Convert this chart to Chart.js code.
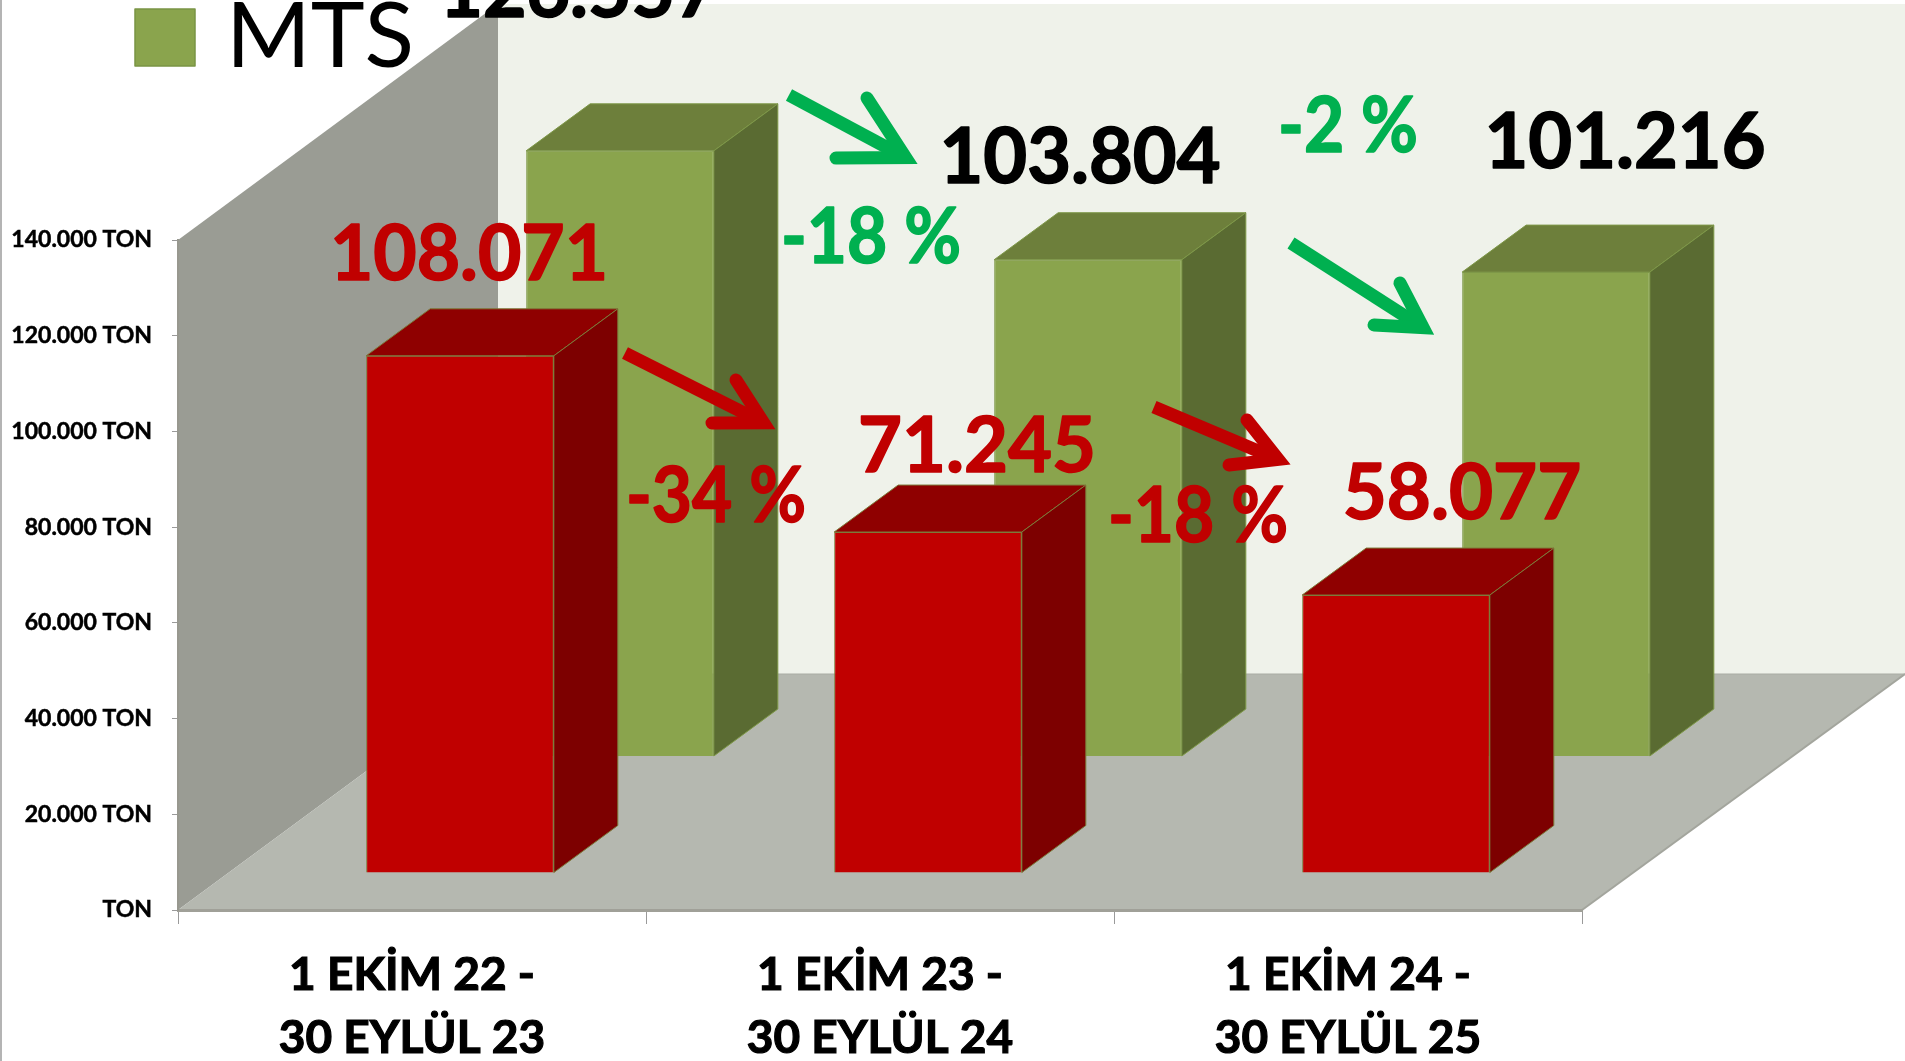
<!DOCTYPE html>
<html><head><meta charset="utf-8">
<style>html,body{margin:0;padding:0;background:#fff;overflow:hidden}canvas{display:block}</style>
<script src="https://cdn.jsdelivr.net/npm/chart.js@4"></script>
</head><body><canvas id="c" width="1905" height="1061"></canvas>
<script>
const categories = [["1 EKİM 22 -","30 EYLÜL 23"],["1 EKİM 23 -","30 EYLÜL 24"],["1 EKİM 24 -","30 EYLÜL 25"]];
const mtsValues = [126557,103804,101216];
const otherValues = [108071,71245,58077];
const mtsChanges = ["-18 %","-2 %"];
const otherChanges = ["-34 %","-18 %"];
const legendLabel = "MTS";

const FONT = 'Lato, sans-serif';
const WALL = {dx:320, dy:236};
const BAR3D = {dx:64, dy:47};
const fmt = v => String(v).replace(/\B(?=(\d{3})+$)/g,'.');

// depth position of each dataset inside the floor, and 3D face colours
const looks = [
  {shiftX:48, shiftY:-37, top:'#8f0000', side:'#7d0000', edge:'#7d7a3a'},
  {shiftX:208, shiftY:-153.5, top:'#6d7f3b', side:'#5a6b32', edge:'#7e9848'}
];
// annotation placement: [centre x, centre y, fitted width]
const valuePos = [
  [[469,253,278],[977,445,238],[1462,492,239]],
  [[579,-10,279],[1080,156,281],[1625,141,281]]
];
const changePos = [ [[716,495,180],[1198,515,180]], [[871,236,180],[1348,125,140]] ];
const arrows = [
  {c:'#C00000',tail:[625,353],tip:[774,428],a:[736,380],b:[712,423]},
  {c:'#C00000',tail:[1154,407],tip:[1289,464],a:[1247,420],b:[1229,465]},
  {c:'#00B050',tail:[789,95],tip:[916,163],a:[867,98],b:[836,158]},
  {c:'#00B050',tail:[1291,243],tip:[1433,334],a:[1400,283],b:[1374,325]}
];

function poly(ctx,pts,fill,stroke,lw){
  ctx.beginPath();pts.forEach((p,i)=>i?ctx.lineTo(p[0],p[1]):ctx.moveTo(p[0],p[1]));ctx.closePath();
  if(fill){ctx.fillStyle=fill;ctx.fill();}
  if(stroke){ctx.strokeStyle=stroke;ctx.lineWidth=lw||1;ctx.stroke();}
}
function drawArrow(ctx,ar){
  const [tx,ty]=ar.tip,[sx,sy]=ar.tail;
  const L=Math.hypot(tx-sx,ty-sy),ux=(tx-sx)/L,uy=(ty-sy)/L;
  const w=13, ix=tx-ux*w*0.9, iy=ty-uy*w*0.9;
  ctx.save();ctx.strokeStyle=ar.c;ctx.lineWidth=w;
  ctx.lineCap='butt';ctx.beginPath();ctx.moveTo(sx,sy);ctx.lineTo(ix,iy);ctx.stroke();
  ctx.lineCap='round';ctx.lineJoin='miter';ctx.miterLimit=10;
  ctx.beginPath();ctx.moveTo(ar.a[0],ar.a[1]);ctx.lineTo(ix,iy);ctx.lineTo(ar.b[0],ar.b[1]);ctx.stroke();
  ctx.restore();
}
function heavyText(ctx,txt,p,color){
  ctx.fillStyle=color;ctx.strokeStyle=color;ctx.lineWidth=1.6;ctx.lineJoin='round';
  ctx.fillText(txt,p[0],p[1]+2,p[2]);
  ctx.strokeText(txt,p[0],p[1]+2,p[2]);
}

const scene = {
  id:'scene',
  beforeDraw(chart){
    const {ctx,chartArea:{left:l,right:r,bottom:b,top:t}}=chart;
    ctx.save();
    ctx.fillStyle='#fff';ctx.fillRect(0,0,chart.width,chart.height);
    ctx.fillStyle='#b4b4b4';ctx.fillRect(0,0,2,chart.height);
    const bx=l+WALL.dx, fy=b-WALL.dy, ty=t-WALL.dy;
    poly(ctx,[[bx,ty],[chart.width,ty],[chart.width,fy],[bx,fy]],'#eff2ea');
    poly(ctx,[[l,b],[l,t],[bx,ty],[bx,fy]],'#9a9c94');
    poly(ctx,[[l,b],[r,b],[chart.width,fy],[bx,fy]],'#b5b8b0');
    ctx.strokeStyle='#a3a59d';ctx.lineWidth=2;
    ctx.beginPath();ctx.moveTo(r,b);ctx.lineTo(chart.width,fy);ctx.stroke();
    ctx.strokeStyle='#a9aca4';ctx.lineWidth=1;
    ctx.beginPath();ctx.moveTo(bx,fy);ctx.lineTo(chart.width,fy);ctx.stroke();
    ctx.restore();
  },
  beforeDatasetDraw(chart,args){
    const {ctx}=chart,lk=looks[args.index];
    ctx.save();ctx.translate(lk.shiftX,lk.shiftY);
    args.meta.data.forEach(el=>{
      const p=el.getProps(['x','y','base','width'],true);
      const x0=p.x-p.width/2,x1=p.x+p.width/2,{dx,dy}=BAR3D;
      poly(ctx,[[x0,p.y],[x1,p.y],[x1+dx,p.y-dy],[x0+dx,p.y-dy]],lk.top,lk.edge,1);
      poly(ctx,[[x1,p.y],[x1+dx,p.y-dy],[x1+dx,p.base-dy],[x1,p.base]],lk.side,lk.edge,1);
    });
  },
  afterDatasetDraw(chart){chart.ctx.restore();},
  afterDatasetsDraw(chart){
    const {ctx}=chart;
    ctx.save();
    ctx.textAlign='center';ctx.textBaseline='middle';
    ctx.font='bold 76px '+FONT;
    [otherValues,mtsValues].forEach((vals,s)=>vals.forEach((v,i)=>{
      heavyText(ctx,fmt(v),valuePos[s][i],s?'#000':'#C00000');
    }));
    [otherChanges,mtsChanges].forEach((vals,s)=>vals.forEach((v,i)=>{
      heavyText(ctx,v,changePos[s][i],s?'#00B050':'#C00000');
    }));
    arrows.forEach(a=>drawArrow(ctx,a));
    // legend
    ctx.fillStyle='#8aa44d';ctx.strokeStyle='#7a9444';ctx.lineWidth=1.5;
    ctx.fillRect(135,9,60,57);ctx.strokeRect(135,9,60,57);
    ctx.fillStyle='#000';ctx.textAlign='left';ctx.textBaseline='alphabetic';
    ctx.font='92px '+FONT;ctx.fillText(legendLabel,226,67,188);
    ctx.restore();
  }
};

new Chart(document.getElementById('c'),{
  type:'bar',
  plugins:[scene],
  data:{labels:categories,datasets:[
    {label:'Diğer',data:otherValues,backgroundColor:'#C00000',borderColor:looks[0].edge,borderWidth:1,clip:false},
    {label:legendLabel,data:mtsValues,backgroundColor:'#8aa44d',borderColor:looks[1].edge,borderWidth:1,clip:false}
  ]},
  options:{
    responsive:false,animation:false,
    layout:{padding:{left:0,right:323,top:240,bottom:0}},
    plugins:{legend:{display:false},tooltip:{enabled:false},title:{display:false}},
    datasets:{bar:{grouped:false,barPercentage:1,categoryPercentage:0.401}},
    scales:{
      x:{
        afterFit(s){s.height=151;},
        border:{color:'#a0a098',width:3},
        grid:{drawOnChartArea:false,color:'#9a9a9a',tickLength:14,offset:true},
        ticks:{font:{family:FONT,size:46,weight:'bold',lineHeight:1.37},color:'#000',padding:20,maxRotation:0,autoSkip:false,
          textStrokeColor:'#000',textStrokeWidth:1.2}
      },
      y:{
        min:0,max:140000,
        afterFit(s){s.width=178;},
        border:{color:'#98988f',width:2},
        grid:{drawOnChartArea:false,color:'#9a9a9a',tickLength:6},
        ticks:{stepSize:20000,font:{family:FONT,size:23,weight:'bold'},color:'#000',padding:20,
          textStrokeColor:'#000',textStrokeWidth:0.5,
          callback:v=>v===0?'TON':fmt(v)+' TON'}
      }
    }
  }
});
</script></body></html>
